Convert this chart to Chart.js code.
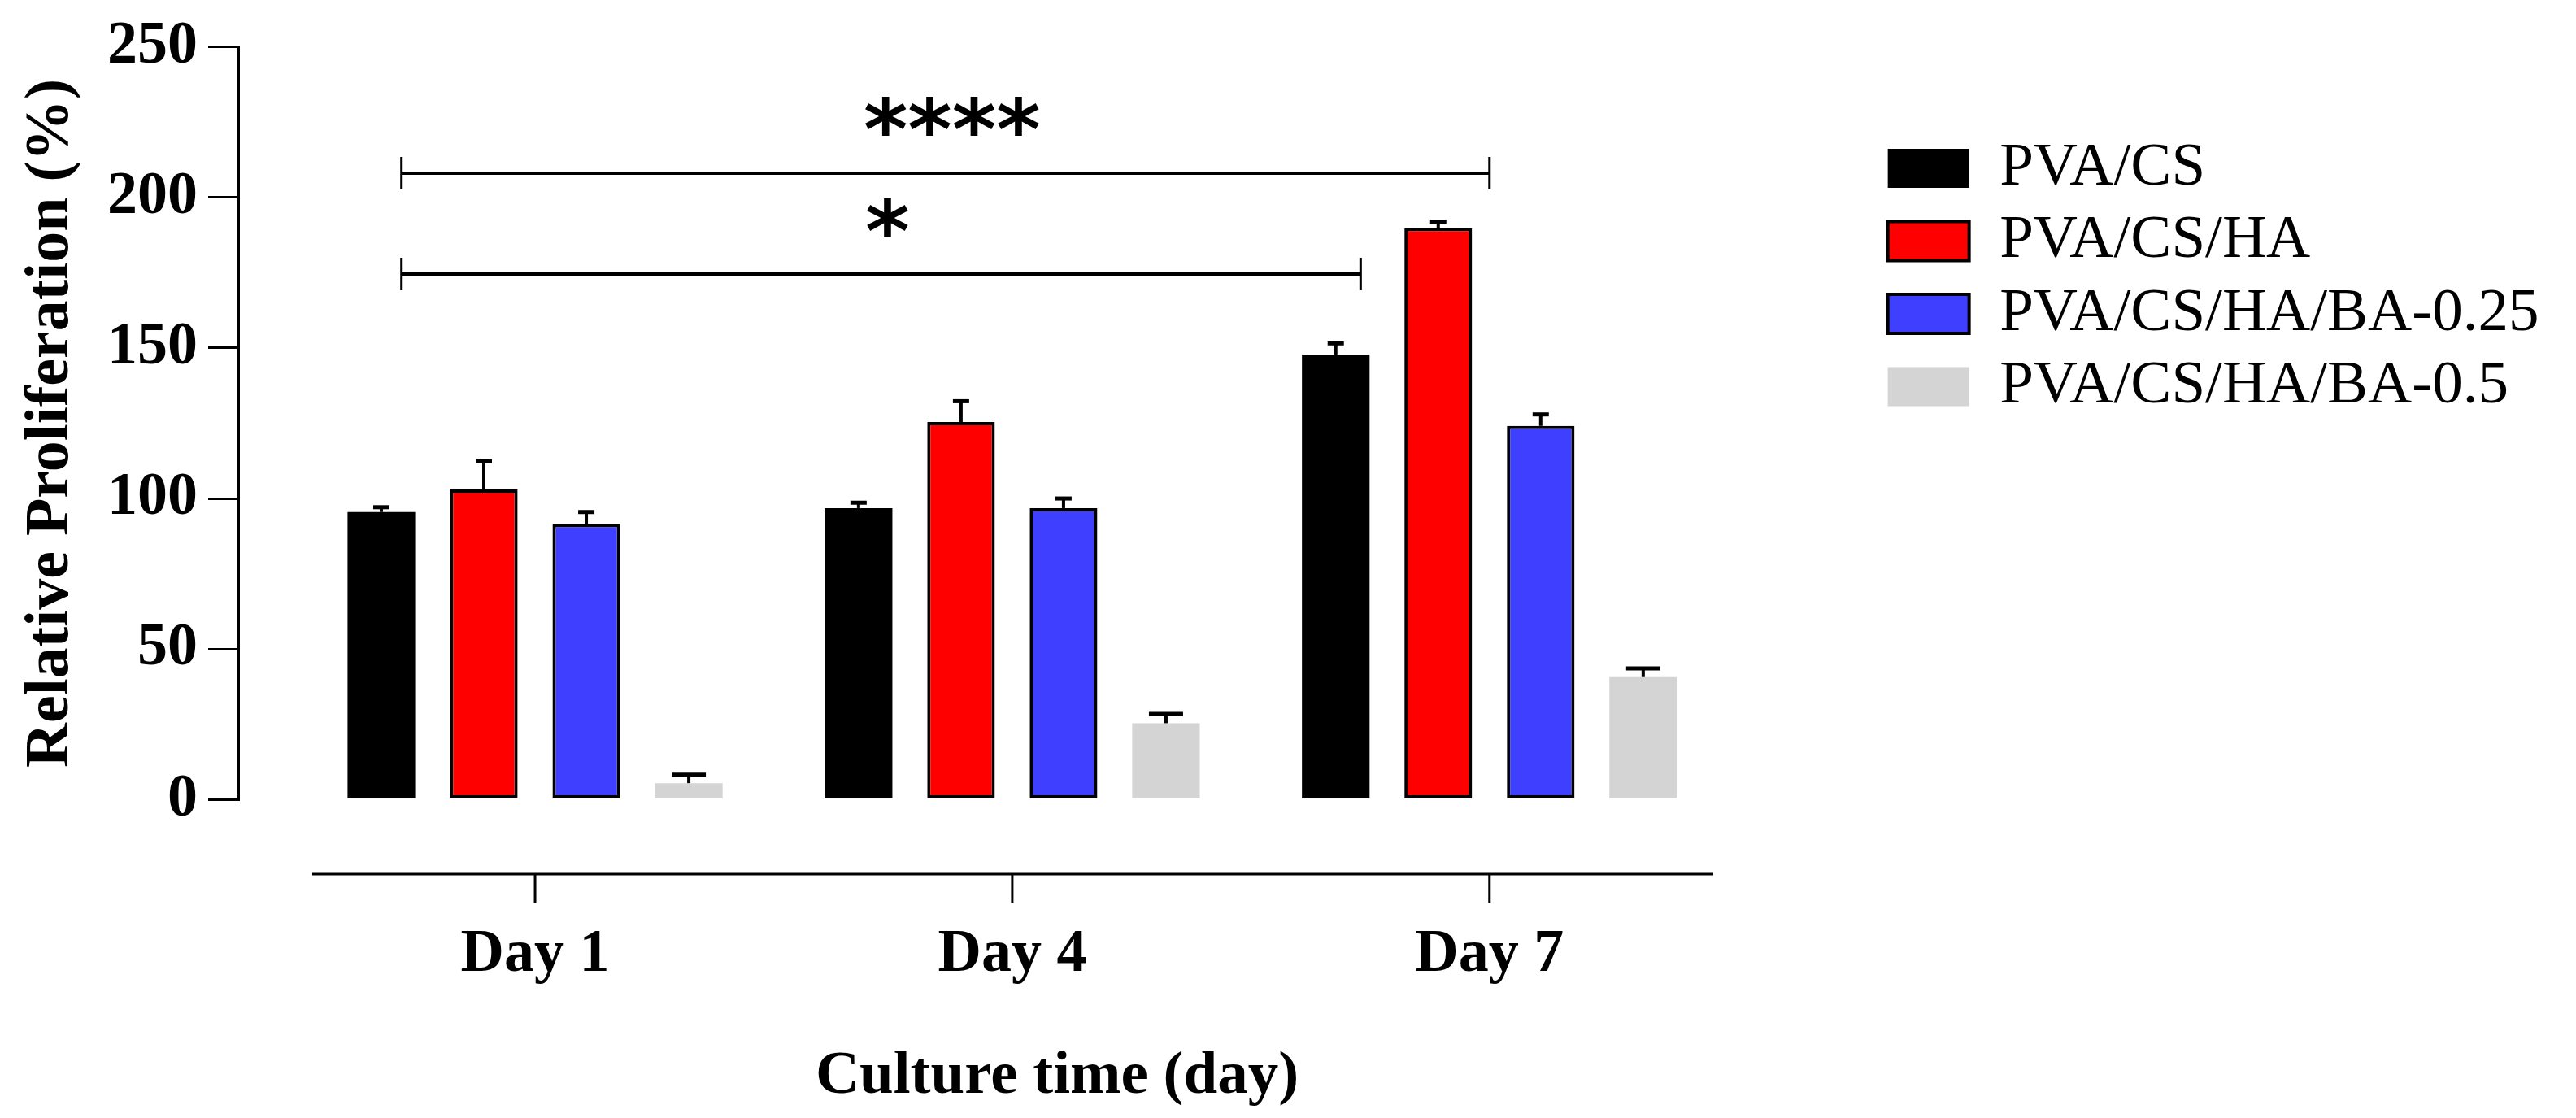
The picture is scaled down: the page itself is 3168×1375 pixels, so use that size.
<!DOCTYPE html>
<html>
<head>
<meta charset="utf-8">
<script src="https://cdn.jsdelivr.net/npm/chart.js@4.4.1/dist/chart.umd.min.js"></script>
<style>
    html, body { margin: 0; padding: 0; background: #fff; }
    #chart { display: block; }
</style>
</head>
<body>
<canvas id="chart" width="3168" height="1375"></canvas>
<script>
// Culture time groups and series
const days = ['Day 1', 'Day 4', 'Day 7'];
const seriesNames = ['PVA/CS', 'PVA/CS/HA', 'PVA/CS/HA/BA-0.25', 'PVA/CS/HA/BA-0.5'];

// Relative proliferation (%), one value per day
const pvaCs = [95.5, 96.8, 147.7];
const pvaCsHa = [103.0, 125.4, 189.8];
const pvaCsHaBa025 = [91.5, 96.8, 124.1];
const pvaCsHaBa05 = [5.5, 25.4, 40.7];

// Upper error bars (SD)
const errPvaCs = [1.6, 1.8, 3.8];
const errPvaCsHa = [9.3, 6.9, 2.1];
const errPvaCsHaBa025 = [4.0, 3.2, 3.8];
const errPvaCsHaBa05 = [2.8, 3.1, 2.9];

// Y axis ticks
const yTicks = [0, 50, 100, 150, 200, 250];

// Significance brackets (day axis units, level in %)
const sigFrom = [-0.28, -0.28];
const sigTo = [2.0, 1.73];
const sigLevel = [208, 174.5];
const sigText = ['****', '*'];

const values = [pvaCs, pvaCsHa, pvaCsHaBa025, pvaCsHaBa05];
const errors = [errPvaCs, errPvaCsHa, errPvaCsHaBa025, errPvaCsHaBa05];

// Styles
const fills = ['#000000', '#ff0000', '#3f3fff', '#d4d4d4'];
const borderWidths = [0, 4, 4, 0];
const capWidths = [20, 20, 20, 42];
const serif = '"Liberation Serif", "Times New Roman", serif';

Chart.defaults.font.family = serif;
Chart.defaults.color = '#000';

// Error bars drawn on top of each bar
const errorBars = {
    id: 'errorBars',
    afterDatasetsDraw(chart) {
        const ctx = chart.ctx;
        const y = chart.scales.y;
        ctx.save();
        ctx.strokeStyle = '#000';
        chart.data.datasets.forEach((ds, i) => {
            const meta = chart.getDatasetMeta(i);
            meta.data.forEach((bar, j) => {
                const top = y.getPixelForValue(values[i][j] + errors[i][j]);
                ctx.lineWidth = 4;
                ctx.beginPath();
                ctx.moveTo(bar.x, bar.y);
                ctx.lineTo(bar.x, top);
                ctx.stroke();
                ctx.lineWidth = 5;
                ctx.beginPath();
                ctx.moveTo(bar.x - capWidths[i] / 2, top);
                ctx.lineTo(bar.x + capWidths[i] / 2, top);
                ctx.stroke();
            });
        });
        ctx.restore();
    }
};

// Significance brackets with asterisks
const sigBrackets = {
    id: 'sigBrackets',
    afterDatasetsDraw(chart) {
        const ctx = chart.ctx;
        const { x, y } = chart.scales;
        ctx.save();
        ctx.strokeStyle = '#000';
        ctx.fillStyle = '#000';
        sigText.forEach((t, k) => {
            const x0 = x.getPixelForValue(sigFrom[k]);
            const x1 = x.getPixelForValue(sigTo[k]);
            const yy = y.getPixelForValue(sigLevel[k]);
            ctx.lineWidth = 4;
            ctx.beginPath();
            ctx.moveTo(x0, yy);
            ctx.lineTo(x1, yy);
            ctx.stroke();
            ctx.lineWidth = 3;
            ctx.beginPath();
            ctx.moveTo(x0, yy - 20);
            ctx.lineTo(x0, yy + 20);
            ctx.moveTo(x1, yy - 20);
            ctx.lineTo(x1, yy + 20);
            ctx.stroke();

            ctx.font = 'bold 104px "DejaVu Sans"';
            ctx.textAlign = 'center';
            ctx.textBaseline = 'alphabetic';
            const m = ctx.measureText(t);
            const cy = yy - 70;
            ctx.fillText(t, (x0 + x1) / 2 + 8, cy + (m.actualBoundingBoxAscent - m.actualBoundingBoxDescent) / 2);
        });
        ctx.restore();
    }
};

// Detached x axis line with tick marks, below the bars
const offsetXAxis = {
    id: 'offsetXAxis',
    afterDraw(chart) {
        const ctx = chart.ctx;
        const x = chart.scales.x;
        const yy = chart.chartArea.bottom + 91.5;
        ctx.save();
        ctx.strokeStyle = '#000';
        ctx.lineWidth = 3;
        ctx.beginPath();
        ctx.moveTo(x.getPixelForValue(-0.467), yy);
        ctx.lineTo(x.getPixelForValue(2.469), yy);
        x.ticks.forEach(t => {
            const px = x.getPixelForValue(t.value);
            ctx.moveTo(px, yy);
            ctx.lineTo(px, yy + 35);
        });
        ctx.stroke();
        ctx.restore();
    }
};

const ctx = document.getElementById('chart').getContext('2d');

new Chart(ctx, {
    type: 'bar',
    data: {
        datasets: seriesNames.map((name, i) => ({
            label: name,
            data: values[i].map((v, j) => ({ x: j, y: v })),
            backgroundColor: fills[i],
            borderColor: '#000',
            borderWidth: borderWidths[i],
            borderSkipped: false,
            categoryPercentage: 0.859,
            barPercentage: 0.66
        }))
    },
    options: {
        responsive: false,
        animation: false,
        devicePixelRatio: 1,
        layout: { padding: { top: 51, right: 35.5, left: 0, bottom: 0 } },
        plugins: {
            tooltip: { enabled: false },
            legend: {
                position: 'right',
                align: 'start',
                maxWidth: 1000,
                labels: {
                    boxWidth: 100,
                    boxHeight: 48,
                    padding: 14.5,
                    color: '#000',
                    font: { size: 75, family: serif, weight: 'normal' }
                },
                title: { display: true, text: ' ', font: { size: 10 }, padding: { top: 92, bottom: 0 } }
            }
        },
        scales: {
            x: {
                type: 'linear',
                offset: false,
                min: -0.622,
                max: 2.81,
                afterBuildTicks: s => { s.ticks = days.map((d, i) => ({ value: i })); },
                afterFit: s => {
                    s.height = 391.5;
                    s.paddingLeft = 0;
                    s.paddingRight = 0;
                },
                ticks: {
                    callback: v => days[v],
                    font: { size: 74, weight: 'bold' },
                    color: '#000',
                    padding: 0
                },
                grid: { display: false, drawTicks: true, tickLength: 147 },
                border: { display: false },
                title: {
                    display: true,
                    text: 'Culture time (day)',
                    font: { size: 75, weight: 'bold' },
                    color: '#000',
                    padding: { top: 0, bottom: 5 }
                }
            },
            y: {
                min: 0,
                max: 250,
                afterBuildTicks: s => { s.ticks = yTicks.map(v => ({ value: v })); },
                afterFit: s => { s.width = 293; },
                ticks: {
                    font: { size: 74, weight: 'bold' },
                    color: '#000',
                    padding: 13
                },
                grid: { drawOnChartArea: false, drawTicks: true, tickLength: 37, lineWidth: 3, color: '#000' },
                border: { display: true, width: 3, color: '#000' },
                title: {
                    display: true,
                    text: 'Relative Proliferation (%)',
                    font: { size: 76, weight: 'bold' },
                    color: '#000',
                    padding: { top: 18, bottom: 0 }
                }
            }
        }
    },
    plugins: [errorBars, sigBrackets, offsetXAxis]
});
</script>
</body>
</html>
